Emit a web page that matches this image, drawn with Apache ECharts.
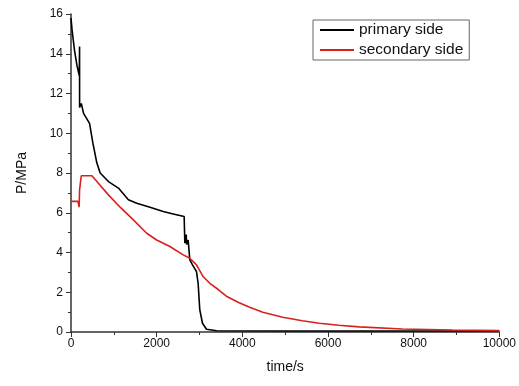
<!DOCTYPE html>
<html>
<head>
<meta charset="utf-8">
<script src="https://cdn.jsdelivr.net/npm/echarts@6/dist/echarts.min.js"></script>
<style>
  html, body { margin: 0; padding: 0; background: #fff; }
  #chart { width: 519px; height: 386px; }
</style>
</head>
<body>
<div id="chart"></div>
<script>
// time (s) / pressure (MPa)
const primaryTime = [0, 25, 80, 140, 193, 200, 201, 240, 293, 433, 511, 604, 681, 874, 1107, 1340, 1535, 1844, 2153, 2386, 2642, 2658, 2690, 2700, 2735, 2774, 2837, 2930, 2968, 3007, 3070, 3163, 3400, 5000, 8000, 10000];
const primaryP = [15.8, 15.2, 14.2, 13.4, 12.9, 14.37, 11.3, 11.5, 11.0, 10.5, 9.5, 8.5, 8.0, 7.57, 7.24, 6.65, 6.48, 6.28, 6.06, 5.94, 5.81, 4.47, 4.9, 4.4, 4.63, 3.63, 3.38, 3.04, 2.45, 1.11, 0.44, 0.14, 0.06, 0.05, 0.05, 0.05];

const secondaryTime = [0, 163, 190, 200, 240, 488, 604, 874, 1147, 1456, 1767, 2000, 2309, 2619, 2774, 2930, 3084, 3240, 3430, 3628, 3900, 4170, 4479, 4944, 5400, 5798, 6250, 6728, 7736, 8900, 10000];
const secondaryP = [6.57, 6.57, 6.28, 7.15, 7.86, 7.86, 7.57, 6.9, 6.28, 5.64, 4.97, 4.63, 4.3, 3.88, 3.71, 3.38, 2.79, 2.45, 2.15, 1.8, 1.5, 1.24, 0.99, 0.74, 0.57, 0.44, 0.34, 0.26, 0.15, 0.10, 0.07];

const xTicks = { min: 0, max: 10000, interval: 2000 };
const yTicks = { min: 0, max: 16, interval: 2 };

const pair = (xs, ys) => xs.map((x, i) => [x, ys[i]]);

const chart = echarts.init(document.getElementById('chart'));
const FONT = 'Liberation Sans, Arial, sans-serif';
const AXIS = '#333';

chart.setOption({
  animation: false,
  grid: { left: 71, right: 19, top: 14, bottom: 54 },
  legend: {
    orient: 'vertical',
    left: 313,
    top: 20,
    padding: [2, 6, 2, 7],
    borderColor: '#666',
    borderWidth: 1,
    itemWidth: 34,
    itemHeight: 2,
    itemGap: 4,
    icon: 'rect',
    textStyle: { color: '#111', fontSize: 15.5, fontFamily: FONT },
    data: ['primary side', 'secondary side'],
  },
  xAxis: {
    type: 'value',
    min: xTicks.min,
    max: xTicks.max,
    interval: xTicks.interval,
    name: 'time/s',
    nameLocation: 'middle',
    nameGap: 28,
    nameTextStyle: { color: '#111', fontSize: 14, fontFamily: FONT },
    axisLine: { show: true, lineStyle: { color: AXIS, width: 1.5 } },
    axisTick: { show: true, inside: false, length: 5, lineStyle: { color: AXIS } },
    minorTick: { show: true, splitNumber: 2, length: 3, lineStyle: { color: AXIS } },
    splitLine: { show: false },
    axisLabel: { color: '#111', fontSize: 12, fontFamily: FONT, margin: 6, formatter: v => String(v) },
  },
  yAxis: {
    type: 'value',
    min: yTicks.min,
    max: yTicks.max,
    interval: yTicks.interval,
    name: 'P/MPa',
    nameLocation: 'middle',
    nameRotate: 90,
    nameGap: 42,
    nameTextStyle: { color: '#111', fontSize: 14, fontFamily: FONT },
    axisLine: { show: true, lineStyle: { color: AXIS, width: 1.5 } },
    axisTick: { show: true, inside: false, length: 5, lineStyle: { color: AXIS } },
    minorTick: { show: true, splitNumber: 2, length: 3, lineStyle: { color: AXIS } },
    splitLine: { show: false },
    axisLabel: { color: '#111', fontSize: 12, fontFamily: FONT, margin: 8 },
  },
  series: [
    {
      name: 'primary side',
      type: 'line',
      data: pair(primaryTime, primaryP),
      showSymbol: false,
      symbol: 'none',
      lineStyle: { color: '#000', width: 1.6 },
      itemStyle: { color: '#000' },
      z: 2,
    },
    {
      name: 'secondary side',
      type: 'line',
      data: pair(secondaryTime, secondaryP),
      showSymbol: false,
      symbol: 'none',
      lineStyle: { color: '#d8201c', width: 1.6 },
      itemStyle: { color: '#d8201c' },
      z: 3,
    },
  ],
});
</script>
</body>
</html>
